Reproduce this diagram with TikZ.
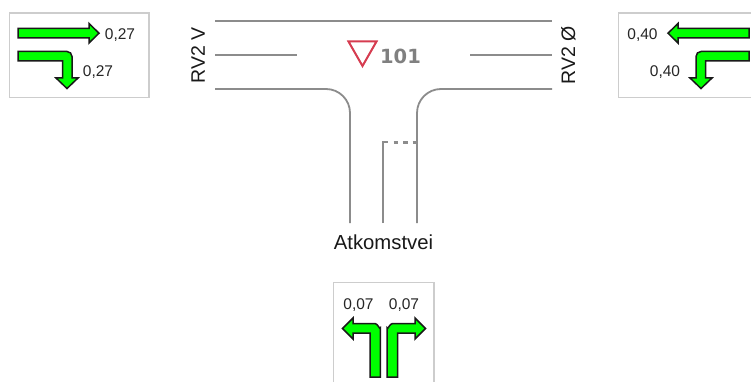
\documentclass[tikz,border=0pt]{standalone}
\usepackage{fontspec}
\setmainfont{Liberation Sans}
\newfontfamily\signfont[Scale=1]{DejaVu Sans}
\definecolor{arrowgreen}{RGB}{0,255,0}
\definecolor{roadgray}{RGB}{140,140,140}
\definecolor{boxgray}{RGB}{205,205,205}
\definecolor{signred}{RGB}{214,60,80}
\definecolor{signtext}{RGB}{128,128,128}
\tikzset{
  panel/.style={draw=boxgray,line width=1.1pt},
  arrowshape/.style={draw=black!90,fill=arrowgreen,line width=1.5pt,line join=miter},
  road/.style={draw=roadgray,line width=1.8pt},
  val/.style={inner sep=0pt,font=\fontsize{15.5}{18}\selectfont,text=black!85},
  lab/.style={inner sep=0pt,font=\fontsize{19.5}{22}\selectfont,text=black!90}
}
\begin{document}
\begin{tikzpicture}[x=1pt,y=-1pt]
\useasboundingbox (0,0) rectangle (751,382);
\fill[white] (0,0) rectangle (751,382);
% panels
\draw[panel] (9.5,13) rectangle (149,97.5);
\draw[panel] (752,13) -- (618.5,13) -- (618.5,97.5) -- (752,97.5);
\draw[panel] (333.5,383) -- (333.5,282.5) -- (434,282.5) -- (434,383);
% road
\draw[road] (215,21) -- (552,21);
\draw[road] (215,55) -- (297,55);
\draw[road] (470,55) -- (552,55);
\draw[road] (215,89) -- (326,89) arc[start angle=-90,end angle=0,radius=24] -- (350,223);
\draw[road] (552,89) -- (441,89) arc[start angle=-90,end angle=-180,radius=24] -- (417,223);
\draw[road,line width=2.2pt] (383.2,223) -- (383.2,142.3) -- (388,142.3);
\draw[road,line width=3pt,dash pattern=on 4.5pt off 5pt] (393.5,142.3) -- (418,142.3);
% sign
\draw[draw=signred,line width=2pt,line join=miter] (348.5,41.5) -- (376.5,41.5) -- (362.5,66) -- cycle;
\node[inner sep=0pt,text=signtext,font=\signfont\bfseries\fontsize{19.5}{22}\selectfont] (sign) at (400.5,56.5) {101};
% labels
\node[lab,rotate=90] (west) at (198,55) {RV2 V};
\node[lab,rotate=90] (east) at (568.5,55) {RV2 Ø};
\node[lab,font=\fontsize{20.3}{23}\selectfont] (access) at (383.5,242) {Atkomstvei};
% left panel
\draw[arrowshape] (18,28.5) -- (89,28.5) -- (89,23.5) -- (99,33.2) -- (89,43) -- (89,38) -- (18,38) -- cycle;
\draw[arrowshape] (18,51.5) -- (67,51.5) to[out=0,in=90] (72,56.5) -- (72,78) -- (78,78) -- (67,88.5) -- (56,78) -- (62.5,78) -- (62.5,61) -- (18,61) -- cycle;
\node[val] (a1) at (120,34.8) {0,27};
\node[val] (a2) at (98,72.3) {0,27};
% right panel
\draw[arrowshape] (749,28.5) -- (678,28.5) -- (678,23.5) -- (668,33.2) -- (678,43) -- (678,38) -- (749,38) -- cycle;
\draw[arrowshape] (749,51.5) -- (701,51.5) to[out=180,in=90] (696,56.5) -- (696,78) -- (690,78) -- (701,88.5) -- (712,78) -- (705.5,78) -- (705.5,61) -- (749,61) -- cycle;
\node[val] (b1) at (642.5,34.8) {0,40};
\node[val] (b2) at (665,72.3) {0,40};
% bottom panel
\draw[arrowshape] (380.3,377) -- (380.3,328) to[out=-90,in=0] (375,323.5) -- (353,323.5) -- (353,318) -- (342.5,328.5) -- (353,339) -- (353,333) -- (370,333) -- (370,377) -- cycle;
\draw[arrowshape] (387.2,377) -- (387.2,328) to[out=-90,in=180] (392.5,323.5) -- (415,323.5) -- (415,318) -- (425.5,328.5) -- (415,339) -- (415,333) -- (397.5,333) -- (397.5,377) -- cycle;
\node[val] (c1) at (358.5,304.8) {0,07};
\node[val] (c2) at (404,304.8) {0,07};
\end{tikzpicture}
\end{document}
